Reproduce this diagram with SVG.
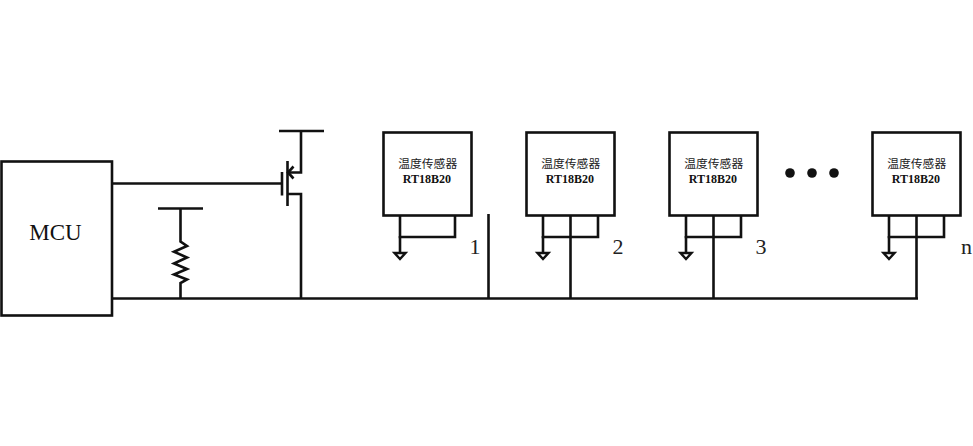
<svg xmlns="http://www.w3.org/2000/svg" width="973" height="446" viewBox="0 0 973 446">
<defs>
<style>
.w{fill:none;stroke:#111;stroke-width:2.6}
.b{fill:#fff;stroke:#111;stroke-width:2.6}
.cn{font-family:"Liberation Serif","Noto Sans CJK SC",serif;font-size:11.8px;fill:#222;text-anchor:middle}
.en{font-family:"Liberation Serif",serif;font-size:12px;font-weight:bold;fill:#111;text-anchor:middle}
.num{font-family:"Liberation Serif",serif;font-size:22px;fill:#222;text-anchor:middle}
</style>
<g id="gnd"><path class="w" d="M0 0V17"/><path d="M-5.500 17H5.500L0 23Z" fill="#fff" stroke="#111" stroke-width="2.400"/></g>
</defs>
<rect width="973" height="446" fill="#fff"/>
<g id="connectors">
<path class="w" d="M112 183.500H281"/>
<path class="w" d="M112 298.500H918"/>
<path class="w" d="M180.500 208V241.500L187 246L174 251.700L187 257.500L174 263.500L187 269L174 274.500L187 279.500L180.500 283V298"/>
<path class="w" d="M158 208.500H203"/>
<path class="w" d="M279 131H324"/>
<path class="w" d="M301 131V172.500H288"/>
<path class="w" d="M301 298V194H288"/>
<path class="w" d="M488.500 214V298"/>
<path class="w" d="M570.500 216V298"/>
<path class="w" d="M713.500 216V298"/>
<path class="w" d="M916.500 216V298"/>
<path class="w" d="M400 216V237H455V216"/>
<path class="w" d="M543 216V237H598V216"/>
<path class="w" d="M686 216V237H741V216"/>
<path class="w" d="M889 216V237H944V216"/>
</g>
<g id="mcu"><rect class="b" x="1.500" y="161.500" width="110.500" height="154"/><text x="55.500" y="240" font-family="Liberation Serif,serif" font-size="23" fill="#111" text-anchor="middle">MCU</text></g>
<g id="mosfet">
<path class="w" d="M282 172V195.500M287.500 161V206"/>
<path class="w" d="M293.500 166.500L288 172.500L293.500 178.500"/>
</g>
<g id="sensor1"><rect class="b" x="383.500" y="132.500" width="88" height="83"/><text class="cn" x="427.700" y="168">温度传感器</text><text class="en" x="427" y="183">RT18B20</text><use href="#gnd" x="400" y="236"/><text class="num" x="475" y="254">1</text></g>
<g id="sensor2"><rect class="b" x="526.500" y="132.500" width="88" height="83"/><text class="cn" x="570.700" y="168">温度传感器</text><text class="en" x="570" y="183">RT18B20</text><use href="#gnd" x="543" y="236"/><text class="num" x="618" y="254">2</text></g>
<g id="sensor3"><rect class="b" x="669.500" y="132.500" width="88" height="83"/><text class="cn" x="713.700" y="168">温度传感器</text><text class="en" x="713" y="183">RT18B20</text><use href="#gnd" x="686" y="236"/><text class="num" x="761" y="254">3</text></g>
<g id="dots"><circle cx="790" cy="173" r="4.800" fill="#111"/><circle cx="812" cy="173" r="4.800" fill="#111"/><circle cx="834" cy="173" r="4.800" fill="#111"/></g>
<g id="sensorn"><rect class="b" x="872.500" y="132.500" width="88" height="83"/><text class="cn" x="916.700" y="168">温度传感器</text><text class="en" x="916" y="183">RT18B20</text><use href="#gnd" x="889" y="236"/><text class="num" x="966.500" y="254">n</text></g>
</svg>
